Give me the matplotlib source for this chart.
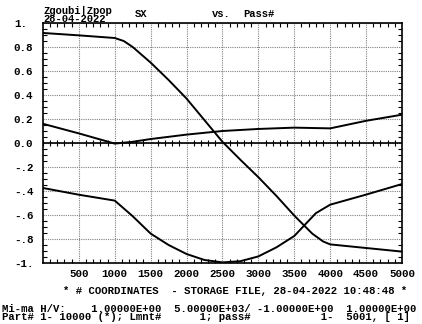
import numpy as np
import matplotlib
matplotlib.use("Agg")
import matplotlib.pyplot as plt
from matplotlib.ticker import MultipleLocator

# ---- data ----
pass_top = [1, 500, 1000, 1125, 1250, 1500, 1750, 2000, 2250, 2500, 2750, 3000, 3250, 3500, 3750, 3900, 4000, 4500, 5000]
sx_top = [0.917, 0.897, 0.875, 0.85, 0.80, 0.67, 0.525, 0.37, 0.19, 0.01, -0.14, -0.285, -0.44, -0.605, -0.755, -0.82, -0.845, -0.875, -0.905]

pass_mid = [1, 500, 1000, 1250, 1500, 2000, 2500, 3000, 3500, 4000, 4500, 5000]
sx_mid = [0.16, 0.08, -0.005, 0.01, 0.033, 0.07, 0.10, 0.117, 0.128, 0.122, 0.185, 0.236]

pass_bot = [1, 500, 1000, 1250, 1500, 1750, 2000, 2250, 2500, 2750, 3000, 3250, 3500, 3650, 3800, 4000, 4500, 5000]
sx_bot = [-0.375, -0.431, -0.48, -0.61, -0.755, -0.85, -0.925, -0.975, -0.995, -0.985, -0.945, -0.87, -0.775, -0.68, -0.585, -0.514, -0.43, -0.342]

xticks = [500, 1000, 1500, 2000, 2500, 3000, 3500, 4000, 4500, 5000]
xticklabels = ["500", "1000", "1500", "2000", "2500", "3000", "3500", "4000", "4500", "5000"]
yticks = [1.0, 0.8, 0.6, 0.4, 0.2, 0.0, -0.2, -0.4, -0.6, -0.8, -1.0]
yticklabels = ["1.", "0.8", "0.6", "0.4", "0.2", "0.0", "-.2", "-.4", "-.6", "-.8", "-1."]

title_left1 = "Zgoubi|Zpop"
title_left2 = "28-04-2022"
title_y = "SX"
title_vs = "vs."
title_x = "Pass#"
footer1 = "* # COORDINATES  - STORAGE FILE, 28-04-2022 10:48:48 *"
footer2 = "Mi-ma H/V:    1.00000E+00  5.00000E+03/ -1.00000E+00  1.00000E+00"
footer3 = "Part# 1- 10000 (*); Lmnt#      1; pass#           1-  5001, [ 1]"

FONT = "Liberation Mono"
W, H = 422, 324

fig = plt.figure(figsize=(W / 100, H / 100), dpi=100)
ax = fig.add_axes([43 / W, 1 - 263 / H, (402 - 43) / W, 240 / H])

ax.set_xlim(1, 5000)
ax.set_ylim(-1, 1)

ax.set_xticks(xticks)
ax.set_xticklabels(xticklabels)
ax.set_yticks(yticks)
ax.set_yticklabels(yticklabels)
ax.xaxis.set_minor_locator(MultipleLocator(100))
ax.yaxis.set_minor_locator(MultipleLocator(0.05))
ax.grid(True, which="major", color="0.5", linestyle=(0, (1, 1)), linewidth=0.8)

for lbl in ax.get_xticklabels() + ax.get_yticklabels():
    lbl.set_fontfamily(FONT)
    lbl.set_fontweight("bold")
    lbl.set_fontsize(7.8)
for lbl in ax.get_yticklabels():
    lbl.set_horizontalalignment("left")

ax.tick_params(axis="both", which="both", direction="in", top=True, right=True, colors="black")
ax.tick_params(axis="both", which="major", length=0)
ax.tick_params(axis="both", which="minor", length=3, width=0.8)
ax.tick_params(axis="x", which="major", pad=4)
ax.tick_params(axis="y", which="major", pad=21)

for sp in ax.spines.values():
    sp.set_linewidth(1.2)
    sp.set_color("black")

# zero axis with tick marks
ax.axhline(0, color="black", linewidth=1.2)
minor_x = ax.xaxis.get_minorticklocs()
ax.plot(minor_x, np.zeros_like(minor_x), linestyle="none", marker="|", markersize=5,
        markeredgewidth=0.8, color="black")

# curves
for xs, ys in [(pass_top, sx_top), (pass_mid, sx_mid), (pass_bot, sx_bot)]:
    ax.plot(xs, ys, color="black", linewidth=1.4)

def ftext(px, py, s, **kw):
    fig.text(px / W, 1 - py / H, s, fontfamily=FONT, fontweight="bold", va="center", **kw)

ftext(43, 10.5, title_left1, fontsize=7.6)
ftext(43, 18.5, title_left2, fontsize=7.6)
ftext(135, 14, title_y, fontsize=7.6)
ftext(212, 14, title_vs, fontsize=7.6)
ftext(243, 14, title_x, fontsize=7.6)
ftext(63, 291, footer1, fontsize=7.7)
ftext(2, 308.5, footer2, fontsize=7.7)
ftext(2, 317.5, footer3, fontsize=7.7)

fig.savefig("out.png", dpi=100)
